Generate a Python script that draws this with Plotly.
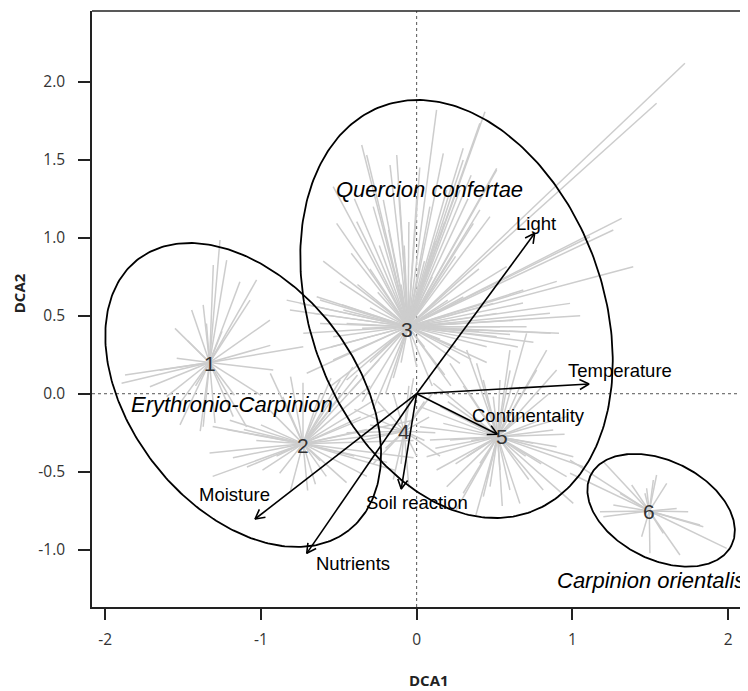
import numpy as np
import plotly.graph_objects as go

# ---------------- data ----------------
X_RANGE = [-2.085, 2.128]
Y_RANGE = [-1.367, 2.453]
X_TICKS = [-2, -1, 0, 1, 2]
X_TICK_TEXT = ["-2", "-1", "0", "1", "2"]
Y_TICKS = [-1.0, -0.5, 0.0, 0.5, 1.0, 1.5, 2.0]
Y_TICK_TEXT = ["-1.0", "-0.5", "0.0", "0.5", "1.0", "1.5", "2.0"]

GROUP_NAMES = ["1", "2", "3", "4", "5", "6"]
CENTROIDS = [(-1.33, 0.20), (-0.73, -0.32), (-0.055, 0.43),
             (-0.08, -0.24), (0.52, -0.275), (1.494, -0.752)]
NUM_LABEL_POS = [(-1.328, 0.195), (-0.728, -0.329), (-0.06, 0.41),
                 (-0.08, -0.244), (0.546, -0.276), (1.494, -0.752)]

G1_SITES = [(-1.263, 0.985), (-1.22, 0.857), (-1.135, 0.718), (-1.028, 0.729),
            (-0.942, 0.472), (-0.728, 0.301), (-1.445, 0.537), (-1.552, 0.419),
            (-1.371, 0.569), (-1.306, 0.825), (-1.541, 0.227), (-1.873, 0.12),
            (-1.895, 0.067), (-1.713, 0.045), (-1.606, -0.019), (-1.52, -0.06),
            (-1.371, -0.212), (-1.295, -0.188), (-1.178, -0.147), (-1.092, -0.212),
            (-0.921, 0.152), (-1.39, -0.24), (-0.94, 0.31), (-1.47, 0.34),
            (-1.07, 0.60), (-1.65, 0.15), (-1.17, -0.01), (-1.0, -0.01),
            (-1.52, -0.20), (-1.35, 0.45), (-1.25, 0.40), (-1.42, 0.05)]
G2_SITES = [(-1.31, -0.53), (-1.33, -0.38), (-1.22, -0.23), (-1.31, -0.21),
            (-0.94, 0.13), (-0.81, 0.11), (-0.73, 0.07), (-0.62, 0.00),
            (-0.41, 0.17), (-0.24, 0.22), (-0.49, 0.09), (-0.36, -0.15),
            (-0.13, -0.25), (-0.19, -0.44), (-0.32, -0.53), (-0.45, -0.57),
            (-0.58, -0.53), (-0.70, -0.62), (-0.88, -0.51), (-0.99, -0.49),
            (-1.09, -0.47), (-1.18, -0.41), (-1.03, -0.30), (-1.11, -0.23),
            (-0.96, -0.09), (-0.86, -0.02), (-0.32, -0.23), (-0.02, -0.30),
            (-0.02, -0.17), (-0.02, -0.41), (-1.20, -0.17), (-0.62, -0.43),
            (-0.81, -0.62), (-0.49, -0.01), (-0.27, -0.04), (-0.14, -0.49),
            (-0.30, 0.05), (-0.38, 0.12), (-0.55, 0.10), (-0.20, -0.10),
            (-0.90, -0.40), (-1.00, -0.20), (-0.65, -0.58), (-0.40, -0.40)]
G3_SITES = [(0.128, 1.819), (0.439, 1.808), (-0.353, 1.594), (-0.321, 1.53),
            (-0.171, 1.466), (-0.128, 1.53), (0.171, 1.541), (0.299, 1.498),
            (0.406, 1.733), (0.514, 1.434), (-0.536, 1.327), (-0.514, 1.092),
            (-0.493, 0.718), (-0.642, 0.622), (-0.385, 1.103), (-0.279, 1.199),
            (-0.214, 1.242), (0.085, 1.199), (0.193, 1.306), (0.278, 1.306),
            (0.364, 1.092), (0.471, 1.135), (0.578, 0.814), (0.685, 0.665),
            (0.683, 0.581), (-0.75, 0.58), (-0.814, 0.537), (-0.471, 0.537),
            (-0.05, 1.10), (0.02, 1.45), (-0.24, 0.95), (-0.42, 0.90),
            (0.12, 0.98), (0.25, 0.88), (-0.60, 0.85), (-0.30, 0.80),
            (0.05, 0.85), (-0.12, 1.35), (0.33, 1.25),
            (1.723, 2.118), (1.541, 1.862), (1.317, 1.124), (1.263, 1.049),
            (1.391, 0.814), (0.985, 0.579), (0.299, 1.573), (0.514, 1.445),
            (0.406, 1.178), (1.113, 1.006), (0.856, 0.515), (0.706, 0.429),
            (0.90, 0.72), (1.05, 0.50),
            (0.0, 0.173), (-0.45, 0.088), (-0.536, 0.216), (-0.621, 0.28),
            (-0.706, 0.131), (0.278, 0.195), (0.45, 0.301), (0.514, 0.365),
            (0.535, 0.429), (0.514, 0.515), (0.492, 0.579), (-0.664, 0.515),
            (-0.621, 0.601), (-0.728, 0.387), (-0.536, 0.365), (-0.835, 0.60),
            (-0.48, 0.57),
            (-0.35, -0.05), (-0.20, 0.0), (-0.42, 0.02), (-0.28, -0.10),
            (0.10, 0.05), (0.18, 0.12), (-0.55, 0.05), (-0.15, 0.10),
            (0.25, 0.30), (0.35, 0.22), (0.60, 0.38), (0.914, 0.387),
            (0.861, 0.387), (0.75, 0.33), (0.62, 0.47),
            (-0.30, 0.55), (0.20, 0.60), (-0.20, 0.30), (0.15, 0.35),
            (-0.35, 0.42), (0.25, 0.45), (-0.10, 0.70), (0.10, 0.75),
            (-0.25, 0.65), (0.30, 0.62), (-0.45, 0.45), (0.40, 0.40),
            (-0.18, 1.05), (0.00, 1.25), (-0.08, 0.95), (0.18, 1.10),
            (-0.38, 0.70), (0.40, 0.80), (-0.55, 0.30), (0.45, 0.20),
            (-0.10, 0.20), (0.05, 0.30), (-0.30, 0.20), (0.22, 0.05),
            (-0.62, 0.45), (0.65, 0.30), (-0.40, 1.25), (0.35, 1.40)]
G4_SITES = [(-0.05, 0.05), (-0.15, 0.0), (0.05, -0.05), (-0.25, -0.05),
            (-0.30, -0.20), (-0.20, -0.35), (-0.10, -0.45), (0.0, -0.40),
            (0.05, -0.30), (0.08, -0.15), (-0.35, -0.30), (-0.15, -0.55),
            (-0.40, -0.10), (-0.02, 0.10), (0.12, -0.25), (-0.28, -0.45),
            (-0.05, -0.60), (0.10, 0.0), (-0.45, -0.25), (0.15, -0.40)]
G5_SITES = [(0.706, 0.387), (0.599, 0.28), (0.835, 0.28), (0.899, 0.152),
            (0.321, 0.28), (0.214, 0.195), (0.107, 0.067), (0.021, -0.083),
            (0.021, -0.212), (0.085, -0.297), (0.064, -0.404), (0.128, -0.489),
            (0.193, -0.596), (0.299, -0.638), (0.428, -0.66), (0.471, -0.596),
            (0.599, -0.617), (0.663, -0.703), (0.813, -0.617), (1.006, -0.703),
            (0.963, -0.532), (1.006, -0.404), (0.899, -0.34), (0.877, -0.233),
            (0.792, -0.169), (0.963, -0.147), (0.321, -0.169), (0.171, -0.19),
            (0.214, -0.297), (0.321, -0.404), (0.406, -0.446), (0.535, -0.489),
            (0.749, -0.318), (1.07, -0.468), (0.15, -0.083), (0.492, -0.019),
            (0.535, 0.088), (0.428, 0.088), (0.663, 0.045), (0.77, 0.152),
            (0.385, 0.195), (0.25, -0.75), (0.55, -0.72), (0.38, -0.78),
            (0.72, -0.55), (0.30, 0.05), (0.95, -0.26), (0.60, 0.15),
            (0.12, -0.35), (0.35, -0.30), (0.70, -0.40), (0.25, -0.45),
            (0.65, -0.15), (0.45, -0.55), (0.80, -0.45), (0.20, -0.05),
            (0.85, 0.00), (0.40, -0.10)]
G6_SITES = [(1.199, -0.436), (0.985, -0.425), (0.985, -0.51), (1.306, -0.638),
            (1.177, -0.756), (1.199, -0.788), (1.263, -0.713), (1.381, -0.585),
            (1.541, -0.521), (1.52, -0.553), (1.606, -0.574), (1.67, -0.735),
            (1.744, -0.756), (1.82, -0.842), (1.841, -0.853), (1.991, -0.991),
            (1.691, -1.034), (1.584, -0.895), (1.498, -1.023), (1.445, -0.917),
            (1.466, -0.638), (1.477, -0.606)]
GROUP_SITES = [G1_SITES, G2_SITES, G3_SITES, G4_SITES, G5_SITES, G6_SITES]

# ellipses: centre x, centre y, semi-axis a, semi-axis b, angle (deg)
ELLIPSES = [(-1.114, -0.008, 1.101, 0.722, -51.9),
            (0.256, 0.543, 1.385, 0.940, -69.8),
            (1.570, -0.747, 0.505, 0.316, -26.4)]
ALLIANCE_NAMES = ["Erythronio-Carpinion", "Quercion confertae", "Carpinion orientalis"]
ALLIANCE_POS = [(-1.188, -0.072), (0.082, 1.306), (1.506, -1.194)]

# environmental vectors
VAR_NAMES = ["Light", "Temperature", "Continentality", "Soil reaction", "Nutrients", "Moisture"]
VAR_X = [0.758, 1.107, 0.518, -0.099, -0.706, -1.038]
VAR_Y = [1.028, 0.062, -0.260, -0.611, -1.023, -0.803]
VAR_LABEL_X = [0.767, 1.307, 0.719, 0.005, -0.406, -1.172]
VAR_LABEL_Y = [1.088, 0.152, -0.137, -0.700, -1.087, -0.649]

# ---------------- figure ----------------
fig = go.Figure()

# spider lines
sx, sy = [], []
for (cx, cy), sites in zip(CENTROIDS, GROUP_SITES):
    for px, py in sites:
        sx += [cx, px, None]
        sy += [cy, py, None]
fig.add_trace(go.Scatter(x=sx, y=sy, mode="lines",
                         line=dict(color="#cdcdcd", width=1.5),
                         hoverinfo="skip"))

# ellipses
t = np.linspace(0, 2 * np.pi, 300)
for cx, cy, a, b, ang in ELLIPSES:
    th = np.deg2rad(ang)
    ex = cx + a * np.cos(th) * np.cos(t) - b * np.sin(th) * np.sin(t)
    ey = cy + a * np.sin(th) * np.cos(t) + b * np.cos(th) * np.sin(t)
    fig.add_trace(go.Scatter(x=ex, y=ey, mode="lines",
                             line=dict(color="black", width=1.8),
                             hoverinfo="skip"))

# arrows
HEAD_L = 0.068
HEAD_A = np.deg2rad(28)
ax, ay = [], []
for vx, vy in zip(VAR_X, VAR_Y):
    phi = np.arctan2(vy, vx)
    ax += [0, vx, None]
    ay += [0, vy, None]
    ax += [vx - HEAD_L * np.cos(phi - HEAD_A), vx, vx - HEAD_L * np.cos(phi + HEAD_A), None]
    ay += [vy - HEAD_L * np.sin(phi - HEAD_A), vy, vy - HEAD_L * np.sin(phi + HEAD_A), None]
fig.add_trace(go.Scatter(x=ax, y=ay, mode="lines",
                         line=dict(color="black", width=1.6),
                         hoverinfo="skip"))

annotations = []
for name, (lx, ly) in zip(GROUP_NAMES, NUM_LABEL_POS):
    annotations.append(dict(x=lx, y=ly, text=name, showarrow=False,
                            xanchor="center", yanchor="middle",
                            font=dict(family="Liberation Sans, Arial", size=21, color="#333333")))
for name, (lx, ly) in zip(ALLIANCE_NAMES, ALLIANCE_POS):
    annotations.append(dict(x=lx, y=ly, text="<i>" + name + "</i>", showarrow=False,
                            xanchor="center", yanchor="middle",
                            font=dict(family="Liberation Sans, Arial", size=22, color="black")))
for name, lx, ly in zip(VAR_NAMES, VAR_LABEL_X, VAR_LABEL_Y):
    annotations.append(dict(x=lx, y=ly, text=name, showarrow=False,
                            xanchor="center", yanchor="middle",
                            font=dict(family="Liberation Sans, Arial", size=18.5, color="black")))
# axis titles (kept just inside the figure edges)
annotations.append(dict(xref="paper", yref="paper", x=0.514, y=-0.1409, text="<b>DCA1</b>",
                        showarrow=False, xanchor="center", yanchor="bottom", borderpad=0,
                        font=dict(family="Open Sans", size=15, color="#222222")))
annotations.append(dict(xref="paper", yref="paper", x=-0.1275, y=0.527, text="<b>DCA2</b>",
                        showarrow=False, xanchor="left", yanchor="middle", textangle=-90,
                        borderpad=0,
                        font=dict(family="Open Sans", size=15, color="#222222")))

shapes = [
    dict(type="line", xref="x", yref="y", x0=0, x1=0, y0=Y_RANGE[0], y1=Y_RANGE[1],
         line=dict(color="#555555", width=1, dash="dot"), layer="below"),
    dict(type="line", xref="x", yref="y", x0=X_RANGE[0], x1=X_RANGE[1], y0=0, y1=0,
         line=dict(color="#555555", width=1, dash="dot"), layer="below"),
    dict(type="line", xref="paper", yref="paper", x0=0, x1=1, y0=1, y1=1,
         line=dict(color="#222222", width=1.5)),
]

# page body has an 8px margin, so the figure is sized/offset to compensate
tickfont = dict(family="Open Sans", size=15.5, color="#333333")
fig.update_layout(
    width=740, height=683,
    margin=dict(l=84, r=0, t=3, b=84),
    paper_bgcolor="white", plot_bgcolor="white",
    showlegend=False,
    annotations=annotations,
    shapes=shapes,
    xaxis=dict(range=X_RANGE, tickvals=X_TICKS, ticktext=X_TICK_TEXT,
               showgrid=False, zeroline=False, showline=True, linecolor="#222222",
               linewidth=1.5, ticks="outside", ticklen=11, tickwidth=1.5,
               tickcolor="#222222", tickfont=tickfont, ticklabelstandoff=7),
    yaxis=dict(range=Y_RANGE, tickvals=Y_TICKS, ticktext=Y_TICK_TEXT,
               showgrid=False, zeroline=False, showline=True, linecolor="#222222",
               linewidth=1.5, ticks="outside", ticklen=12, tickwidth=1.5,
               tickcolor="#222222", tickfont=tickfont, ticklabelstandoff=10),
)

fig.write_html("out.html")
